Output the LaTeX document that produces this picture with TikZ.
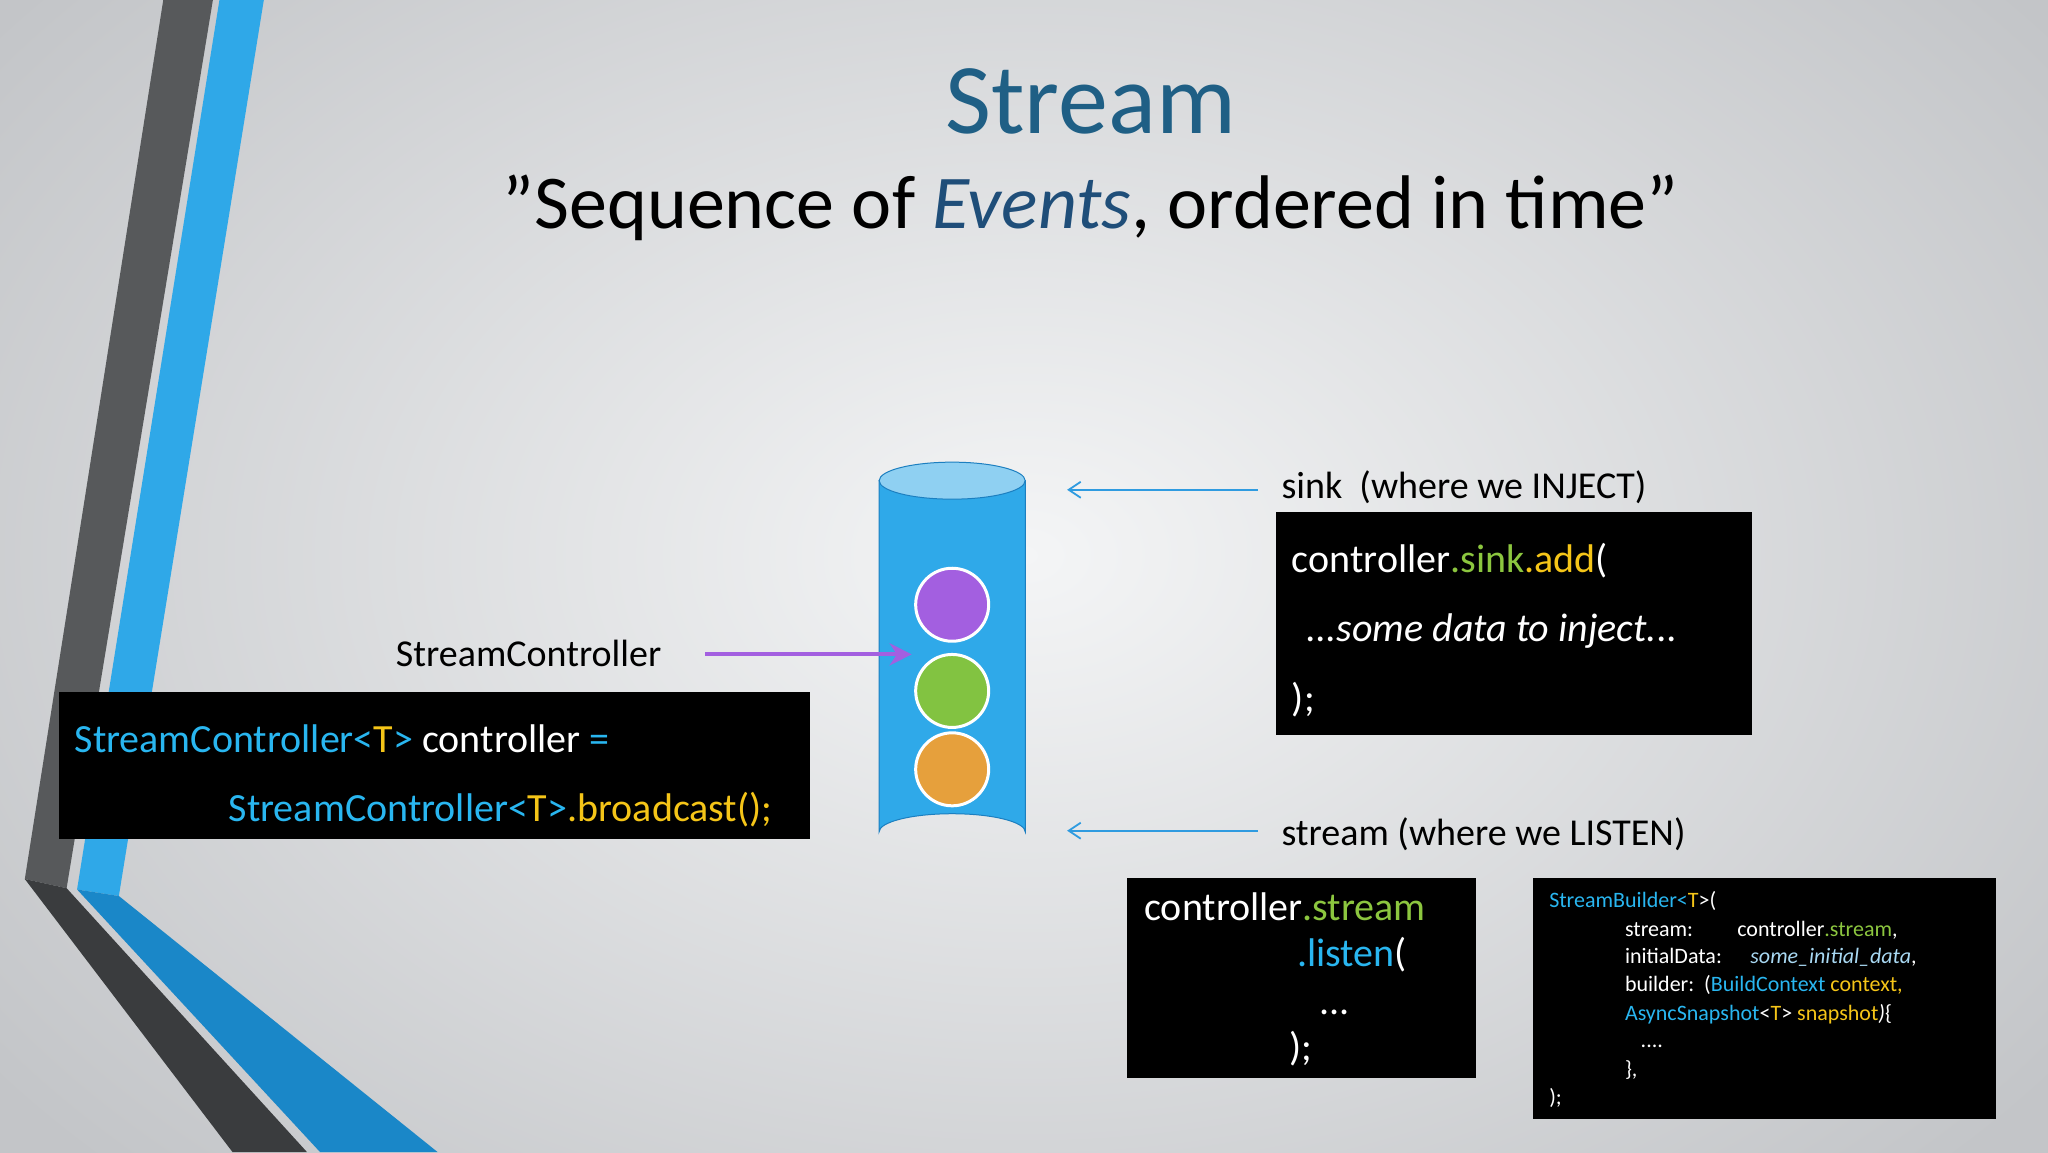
\documentclass[tikz,border=0pt]{standalone}
\usepackage{fontspec}
\setmainfont{Carlito}
\usetikzlibrary{arrows.meta,shapes.geometric}
\definecolor{bgA}{HTML}{F4F5F6}
\definecolor{bgB}{HTML}{C3C5C8}
\definecolor{dkA}{HTML}{57595B}
\definecolor{dkB}{HTML}{3A3C3E}
\definecolor{blA}{HTML}{2FA8E8}
\definecolor{blB}{HTML}{1A87C8}
\definecolor{ttl}{HTML}{1F5F85}
\definecolor{evt}{HTML}{1F4E79}
\definecolor{cb}{HTML}{29B6F0}
\definecolor{cy}{HTML}{F5C518}
\definecolor{cg}{HTML}{8CC63F}
\definecolor{ci}{HTML}{A8D8F2}
\definecolor{pur}{HTML}{A35FE0}
\definecolor{grn}{HTML}{82C341}
\definecolor{org}{HTML}{E6A03C}
\definecolor{cyl}{HTML}{2FA9E9}
\definecolor{cyltop}{HTML}{8FD0F2}
\definecolor{cylln}{HTML}{1C7FC0}
\definecolor{arr}{HTML}{2F9BE0}
\begin{document}
\begin{tikzpicture}[x=1.30612pt,y=-1.30612pt,
  code/.style={anchor=base west,inner sep=0pt,text=white,font=\fontsize{40}{40}\selectfont},
  small/.style={anchor=base west,inner sep=0pt,text=white,font=\fontsize{22}{22}\selectfont},
  lbl/.style={anchor=base west,inner sep=0pt,text=black,font=\fontsize{38}{38}\selectfont},
  codebox/.style={fill=black,draw=none},
  ball/.style={circle,draw=white,line width=3pt,minimum size=73pt,inner sep=0pt}]
\useasboundingbox (0,0) rectangle (1568,882);
\fill[bgB] (0,0) rectangle (1568,882);
\shade[inner color=bgA,outer color=bgB] (-200,-250) rectangle (1768,1100);
% left decoration
\fill[dkA] (125,0) -- (163,0) -- (51,680) -- (19,673) -- cycle;
\fill[dkB] (19,673) -- (51,680) -- (235,882) -- (178,882) -- cycle;
\fill[blA] (168,0) -- (202,0) -- (91,686) -- (59,681) -- cycle;
\fill[blB] (59,681) -- (91,686) -- (335,882) -- (245,882) -- cycle;
% title
\node[text=ttl,font=\fontsize{100}{100}\selectfont,anchor=base] (title) at (835,102) {Stream};
\node[text=black,font=\fontsize{76}{76}\selectfont,anchor=base] (sub) at (835,175) {"Sequence of \textcolor{evt}{\itshape Events}, ordered in time"};
% cylinder
\fill[cyl,draw=cylln,line width=1pt] (673,368) -- (673,637) arc[start angle=180,end angle=360,x radius=56,y radius=14] -- (785,368) -- cycle;
\node[ellipse,fill=cyltop,draw=cylln,line width=1pt,minimum width=146pt,minimum height=37pt,inner sep=0pt] (ctop) at (729,368) {};
\node[ball,fill=pur] (b1) at (729,463) {};
\node[ball,fill=grn] (b2) at (729,529) {};
\node[ball,fill=org] (b3) at (729,589) {};
% labels
\node[lbl] (lsc) at (303,510) {StreamController};
\node[lbl] (lsink) at (981,382) {sink\ \ (where we INJECT)};
\node[lbl] (lstr) at (981,647) {stream (where we LISTEN)};
\coordinate (pa) at (540,501);
\coordinate (pb) at (698,501);
\draw[pur,line width=4pt,-{Stealth[length=22pt,width=22pt]}] (pa) -- (pb);
\coordinate (sa) at (963,375); \coordinate (sb) at (817,375);
\coordinate (ta) at (963,636); \coordinate (tb) at (817,636);
\draw[arr,line width=1.8pt,-{Straight Barb[length=12pt,width=16pt]}] (sa) -- (sb);
\draw[arr,line width=1.8pt,-{Straight Barb[length=12pt,width=16pt]}] (ta) -- (tb);
% box A
\fill[codebox] (45,530) rectangle (620,642);
\node[code] (a1) at (57,576) {\textcolor{cb}{StreamController<}\textcolor{cy}{T}\textcolor{cb}{>} controller \textcolor{cb}{=}};
\node[code] (a2) at (175,629) {\textcolor{cb}{StreamController<}\textcolor{cy}{T}\textcolor{cb}{>}\textcolor{cy}{.broadcast();}};
% box B
\fill[codebox] (977,392) rectangle (1341,563);
\node[code] (b1t) at (989,438) {controller\textcolor{cg}{.sink}\textcolor{cy}{.add}(};
\node[code] (b2t) at (1000,491) {\itshape ...some data to inject...};
\node[code] (b3t) at (989,545) {);};
% box C
\fill[codebox] (863,672) rectangle (1130,825);
\node[code] (c1) at (876,705) {controller\textcolor{cg}{.stream}};
\node[code] (c2) at (993,740) {\textcolor{cb}{.listen}(};
\node[code] (c3) at (1010,777) {...};
\node[code] (c4) at (987,812) {);};
% box D
\fill[codebox] (1174,672) rectangle (1528,857);
\node[small] (d1) at (1186,695) {\textcolor{cb}{StreamBuilder<}\textcolor{cy}{T}>(};
\node[small] (d2) at (1244,717) {stream:};
\node[small] (d2b) at (1330,717) {controller\textcolor{cg}{.stream},};
\node[small] (d3) at (1244,738) {initialData:};
\node[small] (d3b) at (1340,738) {\textcolor{ci}{\itshape some\_initial\_data},};
\node[small] (d4) at (1244,759) {builder:\ \ (\textcolor{cb}{BuildContext} \textcolor{cy}{context,}};
\node[small] (d5) at (1244,781) {\textcolor{cb}{AsyncSnapshot}<\textcolor{cy}{T}> \textcolor{cy}{snapshot}\textit{)}\{};
\node[small] (d6) at (1256,802) {....};
\node[small] (d7) at (1244,824) {\},};
\node[small] (d8) at (1186,846) {);};
\end{tikzpicture}
\end{document}
